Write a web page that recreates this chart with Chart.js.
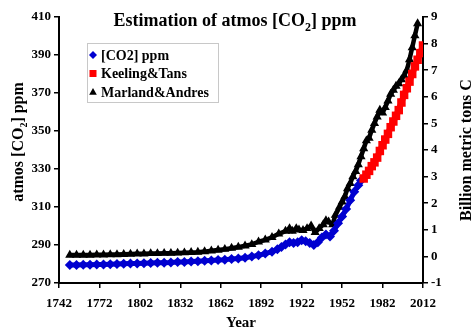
<!DOCTYPE html>
<html>
<head>
<meta charset="utf-8">
<script src="https://cdn.jsdelivr.net/npm/chart.js@4.4.0/dist/chart.umd.min.js"></script>
<style>
  html, body { margin: 0; padding: 0; background: #fff; }
</style>
</head>
<body>
<canvas id="co2Chart" width="474" height="333"></canvas>
<script>
// --- Ice core / merged atmospheric CO2 (ppm, left axis) ---
const co2Years = [1750, 1755, 1760, 1765, 1770, 1775, 1780, 1785, 1790, 1795,
    1800, 1805, 1810, 1815, 1820, 1825, 1830, 1835, 1840, 1845,
    1850, 1855, 1860, 1865, 1870, 1875, 1880, 1885, 1890, 1895,
    1900, 1904, 1907, 1910, 1913, 1916, 1919, 1922, 1925, 1928,
    1931, 1934, 1937, 1940, 1943, 1946, 1949, 1952, 1955, 1958,
    1961, 1964, 1966];
const co2Ppm = [279.5, 279.5, 279.6, 279.6, 279.7, 279.8, 279.9, 280.0, 280.1, 280.2,
    280.3, 280.4, 280.5, 280.6, 280.7, 280.8, 281.0, 281.1, 281.3, 281.5,
    281.7, 281.9, 282.1, 282.3, 282.6, 282.9, 283.3, 283.9, 284.6, 285.5,
    286.5, 287.8, 289.0, 290.2, 291.5, 291.0, 291.5, 292.5, 292.0, 291.0,
    290.0, 291.5, 294.0, 295.5, 294.5, 297.5, 301.5, 305.0, 309.0, 313.5,
    318.0, 321.5, 324.0];

// --- Keeling & Tans, Mauna Loa (ppm, left axis) ---
const keelingYears = [1968, 1970, 1972, 1974, 1976, 1978, 1980, 1982, 1984, 1986,
    1988, 1990, 1992, 1994, 1996, 1998, 2000, 2002, 2004, 2006,
    2008, 2010, 2012];
const keelingPpm = [325.0, 327.0, 329.0, 331.5, 333.5, 336.0, 339.5, 342.5, 345.5, 348.5,
    352.0, 355.0, 358.0, 361.0, 365.0, 369.0, 372.5, 376.0, 380.0, 384.0,
    387.5, 391.0, 395.0];

// --- Marland & Andres fossil fuel emissions (billion metric tons C, right axis) ---
const marlandYears = [1750, 1755, 1760, 1765, 1770, 1775, 1780, 1785, 1790, 1795,
    1800, 1805, 1810, 1815, 1820, 1825, 1830, 1835, 1840, 1845,
    1850, 1855, 1860, 1865, 1870, 1875, 1880, 1885, 1890, 1895,
    1900, 1905, 1910, 1913, 1915, 1918, 1920, 1923, 1926, 1929,
    1932, 1935, 1938, 1940, 1942, 1945, 1947, 1950, 1952, 1954,
    1956, 1958, 1960, 1962, 1964, 1966, 1968, 1970, 1972, 1974,
    1976, 1978, 1980, 1982, 1984, 1986, 1988, 1990, 1992, 1994,
    1996, 1998, 2000, 2002, 2004, 2006, 2008];
const marlandTons = [0.05, 0.05, 0.05, 0.05, 0.06, 0.06, 0.07, 0.07, 0.08, 0.09,
    0.10, 0.10, 0.11, 0.11, 0.12, 0.12, 0.13, 0.14, 0.15, 0.16,
    0.18, 0.21, 0.24, 0.27, 0.31, 0.35, 0.40, 0.45, 0.55, 0.62,
    0.72, 0.85, 0.95, 1.05, 0.95, 1.05, 1.00, 0.98, 1.05, 1.15,
    0.90, 1.05, 1.20, 1.35, 1.30, 1.20, 1.55, 1.85, 2.05, 2.25,
    2.55, 2.75, 3.00, 3.20, 3.45, 3.75, 4.05, 4.35, 4.45, 4.75,
    5.00, 5.25, 5.50, 5.40, 5.60, 5.85, 6.10, 6.25, 6.40, 6.50,
    6.65, 6.80, 7.00, 7.40, 7.85, 8.30, 8.75];

// --- Axis ticks ---
const yearTicks = { min: 1742, max: 2012, step: 30 };
const ppmTicks = { min: 270, max: 410, step: 20 };
const tonTicks = { min: -1, max: 9, step: 1 };

const BLUE = '#0000d0';
const RED = '#ff0000';
const BLACK = '#000000';
const serif = "'Liberation Serif', 'Times New Roman', serif";
const tickFont = { family: serif, size: 13, weight: 'bold' };

const toPoints = (xs, ys) => xs.map((x, i) => ({ x: x, y: ys[i] }));

// draws text pieces in a row, pieces flagged sub are shrunk and dropped
function drawRuns(ctx, runs, size, cx, cy) {
    const big = `bold ${size}px ${serif}`;
    const small = `bold ${Math.round(size * 0.65)}px ${serif}`;
    let total = 0;
    runs.forEach(r => {
        ctx.font = r.sub ? small : big;
        r.w = ctx.measureText(r.t).width;
        total += r.w;
    });
    let x = cx - total / 2;
    ctx.textAlign = 'left';
    ctx.textBaseline = 'alphabetic';
    runs.forEach(r => {
        ctx.font = r.sub ? small : big;
        ctx.fillText(r.t, x, cy + (r.sub ? size * 0.25 : 0));
        x += r.w;
    });
}

function drawMarker(ctx, style, x, y, r, color) {
    ctx.fillStyle = color;
    ctx.beginPath();
    if (style === 'rectRot') {
        ctx.moveTo(x - r, y); ctx.lineTo(x, y - r); ctx.lineTo(x + r, y); ctx.lineTo(x, y + r);
    } else if (style === 'rect') {
        ctx.rect(x - r, y - r, 2 * r, 2 * r);
    } else {
        ctx.moveTo(x, y - r); ctx.lineTo(x + r * 0.95, y + r * 0.7); ctx.lineTo(x - r * 0.95, y + r * 0.7);
    }
    ctx.closePath();
    ctx.fill();
}

const labelsPlugin = {
    id: 'labelsPlugin',
    afterDraw(chart) {
        const ctx = chart.ctx;
        const area = chart.chartArea;
        ctx.save();
        ctx.fillStyle = BLACK;

        // main title
        drawRuns(ctx, [{ t: 'Estimation of atmos [CO' }, { t: '2', sub: true }, { t: '] ppm' }], 18, 235, 26);

        // left axis title
        ctx.save();
        ctx.translate(23, 142);
        ctx.rotate(-Math.PI / 2);
        drawRuns(ctx, [{ t: 'atmos [CO' }, { t: '2', sub: true }, { t: '] ppm' }], 16, 0, 0);
        ctx.restore();

        // right axis title
        ctx.save();
        ctx.translate(471, 150);
        ctx.rotate(-Math.PI / 2);
        drawRuns(ctx, [{ t: 'Billion metric tons C' }], 16, 0, 0);
        ctx.restore();

        // x axis title
        drawRuns(ctx, [{ t: 'Year' }], 15, (area.left + area.right) / 2, 327);

        // legend box
        ctx.strokeStyle = '#c8c8c8';
        ctx.lineWidth = 1;
        ctx.strokeRect(87.5, 43.5, 131, 59);
        chart.data.datasets.forEach((ds, i) => {
            const y = 55 + i * 18.5;
            drawMarker(ctx, ds.pointStyle, 93, y, ds.pointStyle === 'rect' ? 3.5 : 4, ds.backgroundColor);
            ctx.fillStyle = BLACK;
            ctx.font = `bold 14px ${serif}`;
            ctx.textAlign = 'left';
            ctx.textBaseline = 'middle';
            ctx.fillText(ds.label, 101, y + 1);
        });
        ctx.restore();
    }
};

function axis(pos, t, fit) {
    return {
        type: 'linear',
        position: pos,
        min: t.min,
        max: t.max,
        ticks: { stepSize: t.step, color: BLACK, font: tickFont, padding: pos === 'bottom' ? 8 : 3,
            callback: v => String(v) },
        grid: { drawOnChartArea: false, drawTicks: true, tickLength: 5, color: BLACK, lineWidth: 1.5 },
        border: { display: true, color: BLACK, width: 2 },
        afterFit: fit
    };
}

new Chart(document.getElementById('co2Chart'), {
    type: 'scatter',
    data: {
        datasets: [
            { label: '[CO2] ppm', data: toPoints(co2Years, co2Ppm), yAxisID: 'y', order: 2,
              showLine: true, borderColor: BLUE, borderWidth: 5, backgroundColor: BLUE,
              pointStyle: 'rectRot', pointRadius: 5, pointBorderWidth: 0 },
            { label: 'Keeling&Tans', data: toPoints(keelingYears, keelingPpm), yAxisID: 'y', order: 1,
              showLine: true, borderColor: RED, borderWidth: 6, backgroundColor: RED,
              pointStyle: 'rect', pointRadius: 6, pointBorderWidth: 0 },
            { label: 'Marland&Andres', data: toPoints(marlandYears, marlandTons), yAxisID: 'y2', order: 3,
              showLine: true, borderColor: BLACK, borderWidth: 4.5, backgroundColor: BLACK,
              pointStyle: 'triangle', pointRadius: 5.3, pointBorderWidth: 0 }
        ]
    },
    options: {
        responsive: false,
        animation: false,
        events: [],
        layout: { padding: { top: 17, left: 0, right: 0, bottom: 0 } },
        elements: { line: { tension: 0, borderJoinStyle: 'round', borderCapStyle: 'round' } },
        scales: {
            x: axis('bottom', yearTicks, s => { s.height = 50; }),
            y: axis('left', ppmTicks, s => { s.width = 59; }),
            y2: axis('right', tonTicks, s => { s.width = 51; })
        },
        plugins: { legend: { display: false }, tooltip: { enabled: false }, title: { display: false } }
    },
    plugins: [labelsPlugin]
});
</script>
</body>
</html>
